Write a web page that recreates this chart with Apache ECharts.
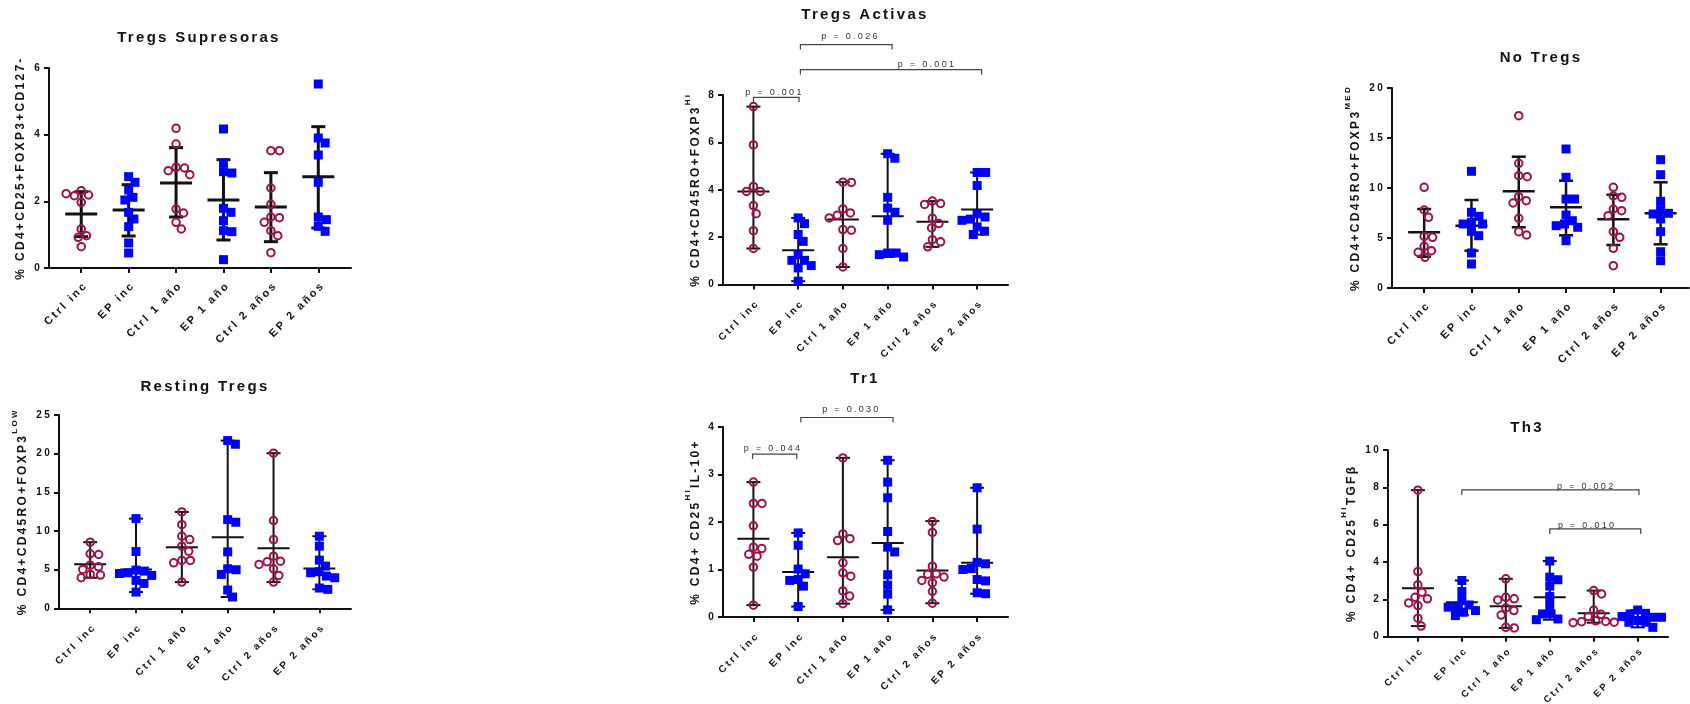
<!DOCTYPE html>
<html>
<head>
<meta charset="utf-8">
<script src="https://cdn.jsdelivr.net/npm/echarts@6/dist/echarts.min.js"></script>
<style>
html, body { margin: 0; background: #fff; }
#chart { width: 1690px; height: 704px; }
</style>
</head>
<body>
<div id="chart"></div>
<script>
var groups = ['Ctrl inc', 'EP inc', 'Ctrl 1 año', 'EP 1 año', 'Ctrl 2 años', 'EP 2 años'];

// Tregs Supresoras (mean +/- SD)
var supValues = [
    [2.32, 2.19, 1.97, 2.17, 2.23, 1.17, 0.97, 0.92, 0.64],
    [2.74, 2.57, 2.34, 2.12, 2.04, 1.67, 1.47, 1.24, 0.75, 0.45],
    [4.19, 3.72, 3.02, 3.00, 2.92, 2.80, 1.77, 1.65, 1.37, 1.17],
    [4.17, 3.15, 2.89, 2.85, 1.79, 1.67, 1.42, 1.12, 1.09, 0.25],
    [3.52, 3.52, 2.40, 1.91, 1.53, 1.51, 1.37, 1.12, 0.97, 0.46],
    [5.52, 3.90, 3.75, 3.39, 2.57, 1.53, 1.45, 1.25, 1.10]
];
var supMean = [1.62, 1.74, 2.55, 2.04, 1.83, 2.74];
var supLow = [0.94, 0.96, 1.53, 0.84, 0.79, 1.20];
var supHigh = [2.29, 2.50, 3.61, 3.25, 2.86, 4.24];

// Tregs Activas (mean, range)
var actValues = [
    [7.51, 5.89, 4.14, 3.93, 3.93, 3.33, 2.99, 2.27, 1.52],
    [2.81, 2.57, 2.11, 1.82, 1.26, 1.02, 1.02, 0.80, 0.70, 0.14],
    [4.32, 4.31, 3.19, 3.02, 2.92, 2.81, 2.32, 2.29, 1.52, 0.74],
    [5.52, 5.33, 3.68, 3.23, 3.05, 2.71, 1.33, 1.33, 1.26, 1.16],
    [3.52, 3.42, 3.38, 2.80, 2.57, 2.39, 1.89, 1.80, 1.59],
    [4.73, 4.73, 4.18, 2.98, 2.85, 2.76, 2.71, 2.43, 2.25, 2.11]
];
var actMean = [3.93, 1.45, 2.74, 2.88, 2.65, 3.17];
var actLow = [1.52, 0.14, 0.74, 1.16, 1.59, 2.11];
var actHigh = [7.51, 2.81, 4.32, 5.52, 3.52, 4.73];
var actBrackets = [[0, 1.02, 7.9, 0.47, 8.1], [1.05, 3.1, 10.13, 2.17, 10.46], [1.05, 5.1, 9.07, 3.88, 9.27]];
var actPvals = ['p = 0.001', 'p = 0.026', 'p = 0.001'];

// No Tregs (mean +/- SD)
var noValues = [
    [10.07, 7.80, 7.07, 5.17, 5.07, 4.17, 3.73, 3.57, 3.07],
    [11.67, 7.57, 7.17, 6.57, 6.40, 6.40, 5.67, 5.23, 3.50, 2.40],
    [17.23, 12.47, 11.23, 11.13, 9.13, 8.73, 8.50, 6.97, 5.63, 5.30],
    [13.90, 11.07, 8.90, 8.90, 7.30, 6.73, 6.40, 6.23, 6.07, 4.73],
    [10.07, 9.20, 9.07, 7.90, 7.73, 7.23, 5.63, 5.07, 3.97, 2.23],
    [12.83, 11.33, 8.67, 7.80, 7.47, 7.40, 6.90, 5.63, 3.63, 2.73]
];
var noMean = [5.57, 6.23, 9.67, 8.07, 6.87, 7.47];
var noLow = [3.13, 3.73, 6.07, 5.27, 4.30, 4.37];
var noHigh = [7.90, 8.80, 13.13, 10.73, 9.33, 10.57];

// Resting Tregs (mean, range)
var restValues = [
    [8.55, 7.04, 6.96, 5.58, 5.37, 5.03, 4.38, 4.30, 3.95],
    [11.60, 7.35, 4.94, 4.81, 4.60, 4.50, 4.25, 3.61, 3.22, 2.10],
    [12.46, 10.82, 9.32, 8.89, 8.03, 7.39, 6.19, 6.19, 5.88, 3.39],
    [21.69, 21.22, 11.47, 11.13, 7.30, 5.11, 4.98, 4.38, 2.36, 1.46],
    [20.06, 11.34, 8.89, 6.74, 6.10, 6.01, 5.67, 5.11, 4.25, 3.39],
    [9.32, 8.03, 6.23, 5.46, 4.73, 4.60, 4.17, 3.95, 2.62, 2.45]
];
var restMean = [5.71, 5.03, 7.90, 9.19, 7.77, 5.15];
var restLow = [3.95, 2.10, 3.39, 1.46, 3.39, 2.45];
var restHigh = [8.55, 11.60, 12.46, 21.69, 20.06, 9.32];

// Tr1 (mean, range)
var tr1Values = [
    [2.84, 2.39, 2.39, 1.92, 1.47, 1.44, 1.32, 1.28, 1.05, 0.25],
    [1.77, 1.51, 1.01, 0.91, 0.79, 0.77, 0.65, 0.22],
    [3.35, 1.75, 1.65, 1.61, 1.14, 0.93, 0.86, 0.55, 0.44, 0.28],
    [3.30, 2.84, 2.51, 1.80, 1.47, 1.37, 0.89, 0.67, 0.48, 0.15],
    [2.01, 1.78, 1.07, 0.91, 0.90, 0.84, 0.77, 0.72, 0.54, 0.29],
    [2.72, 1.85, 1.15, 1.12, 1.02, 1.00, 0.79, 0.76, 0.51, 0.49]
];
var tr1Mean = [1.65, 0.95, 1.26, 1.56, 0.98, 1.14];
var tr1Low = [0.25, 0.22, 0.28, 0.15, 0.29, 0.49];
var tr1High = [2.84, 1.77, 3.35, 3.30, 2.02, 2.72];
var tr1Brackets = [[-0.02, 0.97, 3.43, 0.44, 3.54], [1.06, 3.12, 4.2, 2.19, 4.36]];
var tr1Pvals = ['p = 0.044', 'p = 0.030'];

// Th3 (mean, range)
var th3Values = [
    [7.85, 3.49, 2.78, 2.38, 2.11, 2.03, 1.81, 1.67, 0.99, 0.57],
    [3.01, 2.42, 1.94, 1.70, 1.58, 1.58, 1.40, 1.31, 1.13],
    [3.10, 2.11, 2.03, 1.97, 1.54, 1.40, 1.16, 0.50, 0.47],
    [4.05, 3.19, 3.05, 2.71, 2.15, 1.67, 1.22, 1.22, 0.95, 0.91],
    [2.47, 2.29, 1.43, 1.20, 1.08, 0.85, 0.82, 0.80, 0.78, 0.75],
    [1.43, 1.25, 1.22, 1.08, 1.04, 1.04, 0.86, 0.77, 0.77, 0.50]
];
var th3Mean = [2.60, 1.85, 1.63, 2.11, 1.25, 1.04];
var th3Low = [0.57, 1.16, 0.47, 0.91, 0.75, 0.50];
var th3High = [7.85, 3.01, 3.10, 4.05, 2.47, 1.43];
var th3Brackets = [[1.0, 5.03, 7.86, 3.83, 8.07], [3.0, 5.07, 5.77, 3.85, 5.98]];
var th3Pvals = ['p = 0.002', 'p = 0.010'];

var FONT = '"Liberation Sans", Arial, Helvetica, sans-serif';
var SPACING = '2.3px';
var INK = '#111';
var MAGENTA = '#a0104e';
var BLUE = '#0000ff';
var XMIN = -0.68;

// the figure uses tracked (letter spaced) type; measure with the same spacing we draw with
var measureCtx = document.createElement('canvas').getContext('2d');
measureCtx.letterSpacing = SPACING;
echarts.setPlatformAPI({
    measureText: function (text, font) {
        measureCtx.font = font || '12px sans-serif';
        return measureCtx.measureText(text);
    }
});

var richName = {
    m: { fontSize: 12, fontWeight: 'bold', color: INK, fontFamily: FONT, lineHeight: 20, verticalAlign: 'bottom' },
    s: { fontSize: 8, fontWeight: 'bold', color: INK, fontFamily: FONT, lineHeight: 20, verticalAlign: 'top' }
};

var panels = [
    { title: 'Tregs Supresoras', tx: 199, ty: 29, left: 49, top: 68, width: 302, height: 200, xMax: 5.69,
      max: 6, interval: 2, name: '{m|% CD4+CD25+FOXP3+CD127-}', nameGap: 21, labelSize: 11, labelMargin: 11,
      values: supValues, mean: supMean, low: supLow, high: supHigh, lw: 3 },
    { title: 'Tregs Activas', tx: 865, ty: 6, left: 723, top: 95, width: 285, height: 189.5, xMax: 5.69,
      max: 8, interval: 2, name: '{m|% CD4+CD45RO+FOXP3}{s|HI}', nameGap: 20, labelSize: 10, labelMargin: 13,
      values: actValues, mean: actMean, low: actLow, high: actHigh, lw: 2,
      brackets: actBrackets, pvals: actPvals },
    { title: 'No Tregs', tx: 1541, ty: 49, left: 1392, top: 88, width: 297, height: 200, xMax: 5.6,
      max: 20, interval: 5, name: '{m|% CD4+CD45RO+FOXP3}{s|MED}', nameGap: 29, labelSize: 11, labelMargin: 11,
      values: noValues, mean: noMean, low: noLow, high: noHigh, lw: 2.5 },
    { title: 'Resting Tregs', tx: 205, ty: 378, left: 59, top: 415, width: 292, height: 193.3, xMax: 5.69,
      max: 25, interval: 5, name: '{m|% CD4+CD45RO+FOXP3}{s|LOW}', nameGap: 29, labelSize: 10, labelMargin: 13,
      values: restValues, mean: restMean, low: restLow, high: restHigh, lw: 2 },
    { title: 'Tr1', tx: 865, ty: 370, left: 723, top: 427, width: 285, height: 190, xMax: 5.69,
      max: 4, interval: 1, name: '{m|% CD4+ CD25}{s|HI}{m|IL-10+}', nameGap: 20, labelSize: 10, labelMargin: 13,
      values: tr1Values, mean: tr1Mean, low: tr1Low, high: tr1High, lw: 2,
      brackets: tr1Brackets, pvals: tr1Pvals },
    { title: 'Th3', tx: 1527, ty: 419, left: 1388, top: 450, width: 280, height: 186.7, xMax: 5.69,
      max: 10, interval: 2, name: '{m|% CD4+ CD25}{s|HI}{m|TGFβ}', nameGap: 29, labelSize: 9.5, labelMargin: 8,
      values: th3Values, mean: th3Mean, low: th3Low, high: th3High, lw: 2,
      brackets: th3Brackets, pvals: th3Pvals }
];

// simple beeswarm: push a point sideways until it no longer sits on an earlier one
function swarm(vals, pxPerUnit, pxPerCat) {
    var d = 8.5;
    var placed = [];
    return vals.map(function (v) {
        var y = v * pxPerUnit;
        var cands = [0];
        placed.forEach(function (p) {
            var dy = Math.abs(p.y - y);
            if (dy < d) {
                var dx = Math.sqrt(d * d - dy * dy);
                cands.push(p.x + dx, p.x - dx);
            }
        });
        cands.sort(function (a, b) { return Math.abs(a) - Math.abs(b); });
        var x = cands.find(function (c) {
            return placed.every(function (p) { return Math.hypot(p.x - c, p.y - y) >= d - 0.01; });
        });
        placed.push({ x: x, y: y });
        return x / pxPerCat;
    });
}

function barRenderer(lw) {
    return function (params, api) {
        var x = api.value(0);
        var m = api.coord([x, api.value(1)]);
        var lo = api.coord([x, api.value(2)]);
        var hi = api.coord([x, api.value(3)]);
        var st = { stroke: INK, lineWidth: lw };
        return {
            type: 'group',
            children: [
                { type: 'line', shape: { x1: m[0], y1: lo[1], x2: m[0], y2: hi[1] }, style: st },
                { type: 'line', shape: { x1: m[0] - 7, y1: lo[1], x2: m[0] + 7, y2: lo[1] }, style: st },
                { type: 'line', shape: { x1: m[0] - 7, y1: hi[1], x2: m[0] + 7, y2: hi[1] }, style: st },
                { type: 'line', shape: { x1: m[0] - 16, y1: m[1], x2: m[0] + 16, y2: m[1] }, style: st }
            ]
        };
    };
}

function bracketRenderer(labels) {
    return function (params, api) {
        var a = api.coord([api.value(0), api.value(2)]);
        var b = api.coord([api.value(1), api.value(2)]);
        var t = api.coord([api.value(3), api.value(4)]);
        return {
            type: 'group',
            children: [
                { type: 'polyline',
                  shape: { points: [[a[0], a[1] + 5], [a[0], a[1]], [b[0], b[1]], [b[0], b[1] + 5]] },
                  style: { stroke: '#444', lineWidth: 1.2, fill: 'none' } },
                { type: 'text', x: t[0], y: t[1],
                  style: { text: labels[params.dataIndex], fill: '#333', font: '9px ' + FONT,
                           align: 'center', verticalAlign: 'middle' } }
            ]
        };
    };
}

var ticks = [0, 1, 2, 3, 4, 5];
var option = { animation: false, title: [], grid: [], xAxis: [], yAxis: [], series: [] };

panels.forEach(function (p, i) {
    option.title.push({
        text: p.title, left: p.tx, top: p.ty, textAlign: 'center', padding: 0,
        textStyle: { fontSize: 15, fontWeight: 'bold', color: INK, fontFamily: FONT }
    });
    option.grid.push({ left: p.left, top: p.top, width: p.width, height: p.height, outerBoundsMode: 'none' });
    option.xAxis.push({
        type: 'value', gridIndex: i, min: XMIN, max: p.xMax,
        splitLine: { show: false },
        axisLine: { show: true, onZero: false, lineStyle: { color: INK, width: 2 } },
        axisTick: { show: true, customValues: ticks, length: 5, lineStyle: { color: INK, width: 2 } },
        axisLabel: {
            customValues: ticks, rotate: 45, margin: p.labelMargin, verticalAlign: 'top',
            formatter: function (v) { return groups[Math.round(v)]; },
            fontSize: p.labelSize, fontWeight: 'bold', color: INK, fontFamily: FONT
        }
    });
    option.yAxis.push({
        type: 'value', gridIndex: i, min: 0, max: p.max, interval: p.interval,
        name: p.name, nameLocation: 'middle', nameRotate: 90, nameGap: p.nameGap,
        nameTextStyle: { fontSize: 12, fontWeight: 'bold', color: INK, fontFamily: FONT, rich: richName },
        splitLine: { show: false },
        axisLine: { show: true, onZero: false, lineStyle: { color: INK, width: 2 } },
        axisTick: { show: true, length: 5, lineStyle: { color: INK, width: 2 } },
        axisLabel: { margin: 7, fontSize: 10, fontWeight: 'bold', color: INK, fontFamily: FONT }
    });

    var pxPerUnit = p.height / p.max;
    var pxPerCat = p.width / (p.xMax - XMIN);
    var ctrlData = [], epData = [];
    p.values.forEach(function (vals, g) {
        var offs = swarm(vals, pxPerUnit, pxPerCat);
        vals.forEach(function (v, k) {
            (g % 2 === 0 ? ctrlData : epData).push([g + offs[k], v]);
        });
    });

    option.series.push({
        type: 'custom', xAxisIndex: i, yAxisIndex: i, z: 2, silent: true,
        renderItem: barRenderer(p.lw), encode: { x: 0, y: [1, 2, 3] },
        data: groups.map(function (g, j) { return [j, p.mean[j], p.low[j], p.high[j]]; })
    });
    option.series.push({
        type: 'scatter', xAxisIndex: i, yAxisIndex: i, z: 3, silent: true,
        symbol: 'circle', symbolSize: 7.5,
        itemStyle: { color: 'rgba(255,255,255,0)', borderColor: MAGENTA, borderWidth: 2, opacity: 1 },
        data: ctrlData
    });
    option.series.push({
        type: 'scatter', xAxisIndex: i, yAxisIndex: i, z: 3, silent: true,
        symbol: 'rect', symbolSize: 9,
        itemStyle: { color: BLUE, opacity: 1 },
        data: epData
    });
    if (p.brackets) {
        option.series.push({
            type: 'custom', xAxisIndex: i, yAxisIndex: i, z: 4, silent: true, clip: false,
            renderItem: bracketRenderer(p.pvals), encode: { x: [0, 1, 3], y: [2, 4] },
            data: p.brackets
        });
    }
});

var chart = echarts.init(document.getElementById('chart'), null, { renderer: 'canvas' });
// first paint creates the canvas layer, then give it the same tracking and paint for real
chart.setOption({ graphic: [{ type: 'rect', shape: { x: 0, y: 0, width: 1, height: 1 }, style: { fill: '#fff' } }] });
document.querySelectorAll('#chart canvas').forEach(function (c) {
    c.getContext('2d').letterSpacing = SPACING;
});
chart.setOption(option, true);
</script>
</body>
</html>
